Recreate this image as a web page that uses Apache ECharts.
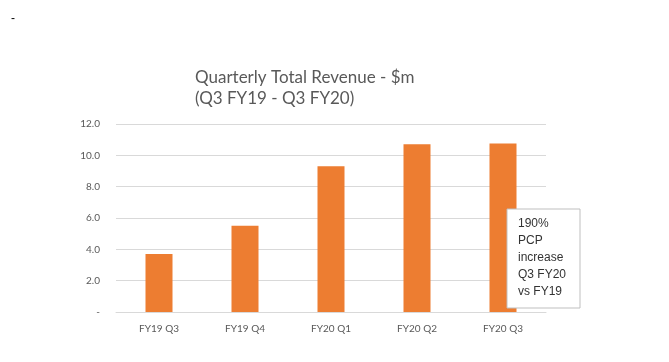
<!DOCTYPE html>
<html><head><meta charset="utf-8">
<script src="https://cdn.jsdelivr.net/npm/echarts@6/dist/echarts.min.js"></script>
<style>html,body{margin:0;padding:0;background:#fff}#c{width:669px;height:362px}</style>
</head><body><div id="c"></div>
<script>
const categories = ['FY19 Q3','FY19 Q4','FY20 Q1','FY20 Q2','FY20 Q3'];
const revenue = [3.7, 5.5, 9.3, 10.7, 10.75];
const titleText = 'Quarterly Total Revenue - $m\n(Q3 FY19 - Q3 FY20)';
const noteText = '190%\nPCP\nincrease\nQ3 FY20\nvs FY19';

const chart = echarts.init(document.getElementById('c'));
chart.setOption({
  animation:false,
  title:{text:titleText,left:190,top:62,textStyle:{fontFamily:'Lato',fontSize:17,fontWeight:'normal',color:'#595959',lineHeight:21}},
  grid:{left:116,right:123,top:124,bottom:50},
  xAxis:{type:'category',data:categories,axisLine:{lineStyle:{color:'#d9d9d9'}},axisTick:{show:false},
    axisLabel:{color:'#595959',fontFamily:'Lato',fontSize:10,margin:12}},
  yAxis:{type:'value',min:0,max:12,interval:2,axisLine:{show:false},axisTick:{show:false},
    splitLine:{lineStyle:{color:'#d9d9d9'}},
    axisLabel:{color:'#595959',fontFamily:'Lato',fontSize:10,margin:16,formatter:v=>v===0?'-':v.toFixed(1)}},
  series:[{type:'bar',data:revenue,barWidth:27,itemStyle:{color:'#ED7D31'}}],
  graphic:[
    {type:'text',left:11,top:13,style:{text:'-',fontSize:12,fill:'#000',fontFamily:'Liberation Sans'}},
    {type:'rect',z:100,shape:{x:507,y:209,width:73,height:99},style:{fill:'#fff',stroke:'#bfbfbf',lineWidth:1}},
    {type:'text',z:101,x:518,y:215,style:{text:noteText,fontFamily:'Liberation Sans',fontSize:12,fill:'#333',lineHeight:17}}
  ]
});
</script></body></html>
